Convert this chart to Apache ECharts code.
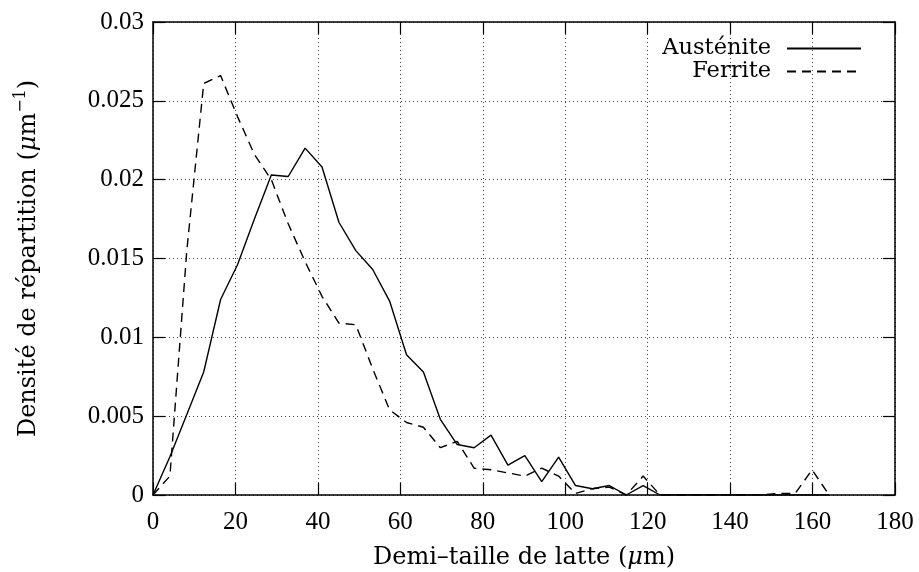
<!DOCTYPE html>
<html>
<head>
<meta charset="utf-8">
<script src="https://cdn.jsdelivr.net/npm/echarts@6/dist/echarts.min.js"></script>
<style>
html,body{margin:0;padding:0;background:#fff;}
#chart{width:919px;height:572px;}
</style>
</head>
<body>
<div id="chart"></div>
<script>
// Bin centres (µm)
const binX = [0, 4.1, 8.2, 12.3, 16.4, 20.5, 24.6, 28.7, 32.8, 36.9, 41.0, 45.1, 49.2, 53.3, 57.4, 61.5, 65.6, 69.7, 73.8, 77.9, 82.0, 86.1, 90.2, 94.3, 98.4, 102.5, 106.6, 110.7, 114.8, 118.9, 123.0, 127.1, 131.2, 135.3, 139.4, 143.5, 147.6, 151.7, 155.8, 159.9, 164.0];
// Austénite density
const austenite = [0, 0.00243, 0.0051, 0.0078, 0.0124, 0.0146, 0.0175, 0.0203, 0.0202, 0.0220, 0.0208, 0.0173, 0.0155, 0.0143, 0.0123, 0.0089, 0.0078, 0.0048, 0.0032, 0.0030, 0.0038, 0.0019, 0.0025, 0.00085, 0.0024, 0.0006, 0.0004, 0.0006, 0, 0.0006, 0, 0, 0, 0, 0, 0, 0, 0, 0, 0, 0];
// Ferrite density
const ferrite = [0, 0.0012, 0.0155, 0.0261, 0.0266, 0.0240, 0.0216, 0.0200, 0.0172, 0.0148, 0.0126, 0.0109, 0.0108, 0.0080, 0.0054, 0.0046, 0.0043, 0.0030, 0.0034, 0.0017, 0.0016, 0.0014, 0.0012, 0.0017, 0.0012, 0.0001, 0.0004, 0.0005, 0, 0.0012, 0, 0, 0, 0, 0, 0, 0, 0.0001, 0.0001, 0.0016, 0];
const seriesNames = ['Austénite', 'Ferrite'];
const xTicks = {min: 0, max: 180, interval: 20};
const yTicks = {min: 0, max: 0.03, interval: 0.005};
const xTitle = 'Demi\u2013taille de latte ({mu|\u03bc}m)';
const yTitle = '{a|Densité de répartition (}{mu|\u03bc}{a|m}{sup|\u22121}{a|)}';

const FONT = 'DejaVu Serif';
const TICKFONT = 'Liberation Serif';
const FS = 24;
const pair = (xs, ys) => xs.map((x, i) => [x, ys[i]]);

const chart = echarts.init(document.getElementById('chart'), null, {renderer: 'canvas'});
const gridLine = {show: true, lineStyle: {color: '#444', width: 1, type: [1, 3]}};
const axisLine = {show: true, onZero: false, lineStyle: {color: '#000', width: 1.5}};
const tick = {show: true, inside: true, length: 12, lineStyle: {color: '#000', width: 1.2}};
const lbl = {color: '#000', fontFamily: TICKFONT, fontSize: 25};

chart.setOption({
  animation: false,
  backgroundColor: '#fff',
  grid: {left: 153, right: 24, top: 22, bottom: 77, containLabel: false, outerBoundsMode: 'none'},
  legend: {
    orient: 'vertical',
    align: 'right',
    right: 57,
    top: 37,
    padding: 0,
    itemWidth: 74,
    itemHeight: 14,
    itemGap: 0,
    data: seriesNames,
    itemStyle: {opacity: 0},
    textStyle: {color: '#000', fontFamily: FONT, fontSize: 22.5, lineHeight: 23, padding: [0, 11, 0, 0]}
  },
  xAxis: [{
    type: 'value', min: xTicks.min, max: xTicks.max, interval: xTicks.interval,
    position: 'bottom',
    name: xTitle, nameLocation: 'middle', nameGap: 51,
    nameTextStyle: {color: '#000', fontFamily: FONT, fontSize: FS, rich: {mu: {fontFamily: FONT, fontSize: FS, fontStyle: 'italic', color: '#000'}}},
    axisLine: axisLine, axisTick: tick, splitLine: gridLine,
    axisLabel: Object.assign({margin: 15}, lbl)
  }, {
    type: 'value', min: xTicks.min, max: xTicks.max, interval: xTicks.interval,
    position: 'top',
    axisLine: axisLine, axisTick: tick, splitLine: {show: false},
    axisLabel: {show: false}
  }],
  yAxis: [{
    type: 'value', min: yTicks.min, max: yTicks.max, interval: yTicks.interval,
    position: 'left',
    name: yTitle, nameLocation: 'middle', nameGap: 108, nameRotate: 90,
    nameTextStyle: {
      color: '#000',
      rich: {
        a: {fontFamily: FONT, fontSize: FS, color: '#000', lineHeight: 32},
        mu: {fontFamily: FONT, fontSize: FS, fontStyle: 'italic', color: '#000', lineHeight: 32},
        sup: {fontFamily: FONT, fontSize: 16, color: '#000', verticalAlign: 'top', lineHeight: 16}
      }
    },
    axisLine: axisLine, axisTick: tick, splitLine: gridLine,
    axisLabel: Object.assign({margin: 9, formatter: v => String(+v.toFixed(3))}, lbl)
  }, {
    type: 'value', min: yTicks.min, max: yTicks.max, interval: yTicks.interval,
    position: 'right',
    axisLine: axisLine, axisTick: tick, splitLine: {show: false},
    axisLabel: {show: false}
  }],
  series: [{
    name: seriesNames[0], type: 'line', xAxisIndex: 0, yAxisIndex: 0,
    data: pair(binX, austenite), symbol: 'none', smooth: false,
    lineStyle: {color: '#000', width: 1.4, type: 'solid'},
    itemStyle: {color: '#000'}
  }, {
    name: seriesNames[1], type: 'line', xAxisIndex: 0, yAxisIndex: 0,
    data: pair(binX, ferrite), symbol: 'none', smooth: false,
    lineStyle: {color: '#000', width: 1.4, type: [9, 6]},
    itemStyle: {color: '#000'}
  }]
});
</script>
</body>
</html>
